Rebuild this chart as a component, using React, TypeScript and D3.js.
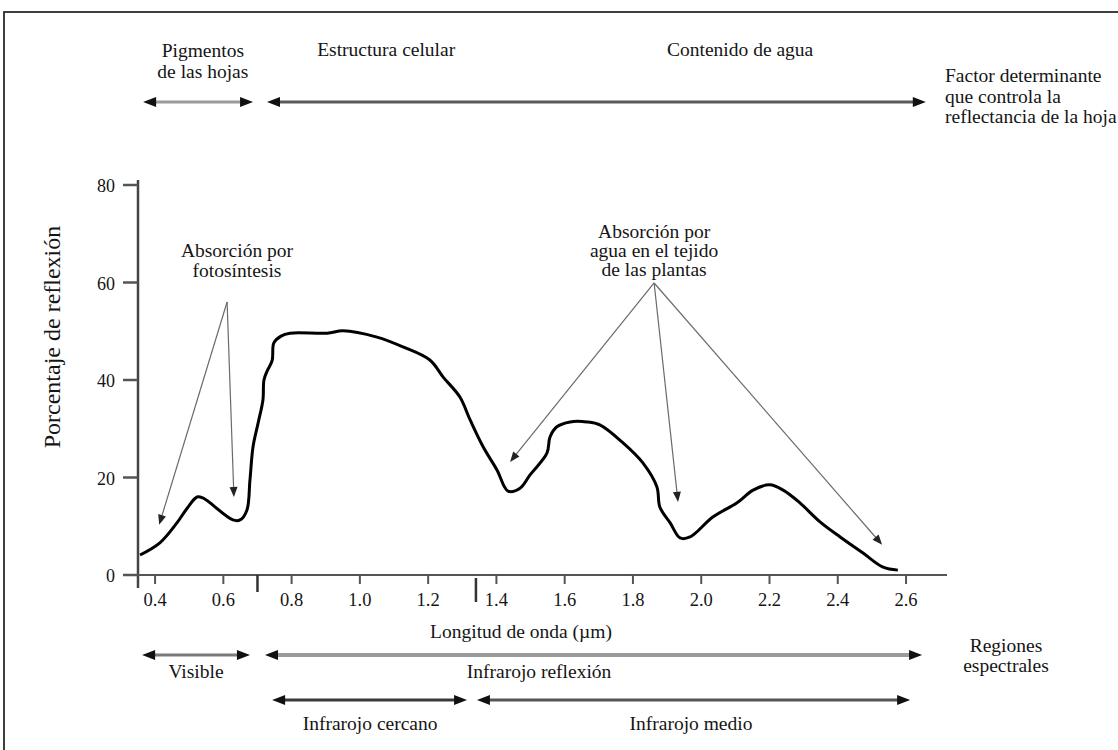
import React from "react";
import * as d3 from "d3";

// Leaf reflectance spectrum: wavelength (µm) and percent reflection
const wavelength = [
  0.356, 0.414, 0.464, 0.494, 0.523, 0.54, 0.628, 0.649, 0.669, 0.678, 0.687,
  0.702, 0.716, 0.719, 0.728, 0.743, 0.748, 0.769, 0.795, 0.904, 0.951, 1.05,
  1.126, 1.205, 1.244, 1.293, 1.323, 1.361, 1.402, 1.434, 1.469, 1.498, 1.548,
  1.557, 1.577, 1.616, 1.665, 1.703, 1.771, 1.829, 1.87, 1.879, 1.909, 1.938,
  1.967, 2.034, 2.105, 2.152, 2.201, 2.24, 2.289, 2.348, 2.407, 2.474, 2.533,
  2.576,
];
const reflectance = [
  4.1, 6.6, 10.7, 13.7, 16.0, 15.8, 11.3, 11.3, 13.3, 19.5, 26.3, 31.2, 35.9,
  40.0, 41.8, 44.0, 47.6, 49.0, 49.6, 49.6, 50.1, 48.8, 46.8, 44.1, 40.6,
  36.5, 31.8, 26.3, 21.5, 17.2, 17.8, 20.5, 25.0, 28.3, 30.4, 31.4, 31.4,
  30.8, 27.1, 23.0, 18.1, 13.9, 10.7, 7.6, 7.8, 11.9, 14.8, 17.4, 18.5, 17.4,
  14.8, 10.9, 7.8, 4.5, 1.6, 1.0,
];

const yTicks = [0, 20, 40, 60, 80];
const xTicks = [0.4, 0.6, 0.8, 1.0, 1.2, 1.4, 1.6, 1.8, 2.0, 2.2, 2.4, 2.6];
// Boundaries between visible / near IR / mid IR, marked on the axis
const boundaryTicks = [0.7, 1.34];

// Factors controlling leaf reflectance (top band)
const factorNames = ["Estructura celular", "Contenido de agua"];
const factorCenters = [1.077, 2.114];
const pigmentLines = ["Pigmentos", "de las hojas"];
const pigmentCenter = 0.54;
const topArrows: [number, number][] = [
  [0.365, 0.687],
  [0.728, 2.658],
];
const factorCaption = [
  "Factor determinante",
  "que controla la",
  "reflectancia de la hoja",
];

// Spectral regions (bottom bands)
const regionRow1: [number, number][] = [
  [0.362, 0.678],
  [0.722, 2.647],
];
const regionRow1Names = ["Visible", "Infrarojo reflexión"];
const regionRow1Centers = [0.52, 1.525];
const regionRow2: [number, number][] = [
  [0.743, 1.314],
  [1.343, 2.612],
];
const regionRow2Names = ["Infrarojo cercano", "Infrarojo medio"];
const regionRow2Centers = [1.03, 1.97];
const regionCaption = ["Regiones", "espectrales"];

// Absorption callouts: apex and arrow tips in data units
const photoLines = ["Absorción por", "fotosíntesis"];
const photoCenter = 0.64;
const photoApex: [number, number] = [0.611, 56.0];
const photoTips: [number, number][] = [
  [0.412, 10.3],
  [0.631, 16.0],
];
const waterLines = ["Absorción por", "agua en el tejido", "de las plantas"];
const waterApex: [number, number] = [1.862, 59.9];
const waterTips: [number, number][] = [
  [1.44, 23.2],
  [1.932, 15.0],
  [2.53, 6.2],
];

const W = 1118;
const H = 750;
const FONT = "'Liberation Serif', 'Times New Roman', serif";
const INK = "#151515";

const x = d3.scaleLinear().domain([0.35, 2.72]).range([138, 947]);
const y = d3.scaleLinear().domain([0, 80]).range([575, 185]);

function head(tx: number, ty: number, fx: number, fy: number, len: number, half: number) {
  const a = Math.atan2(ty - fy, tx - fx);
  const bx = tx - len * Math.cos(a);
  const by = ty - len * Math.sin(a);
  const px = -Math.sin(a) * half;
  const py = Math.cos(a) * half;
  return `M${tx},${ty}L${bx + px},${by + py}L${bx - px},${by - py}Z`;
}

function BandArrow({ from, to, yy, color, width }: { from: number; to: number; yy: number; color: string; width: number }) {
  const x1 = x(from);
  const x2 = x(to);
  const L = 13;
  return (
    <g>
      <line x1={x1 + L - 2} x2={x2 - L + 2} y1={yy} y2={yy} stroke={color} strokeWidth={width} />
      <path d={head(x1, yy, x2, yy, L, 5)} fill="#111" />
      <path d={head(x2, yy, x1, yy, L, 5)} fill="#111" />
    </g>
  );
}

function Callout({ apex, tips }: { apex: [number, number]; tips: [number, number][] }) {
  const ax = x(apex[0]);
  const ay = y(apex[1]);
  return (
    <g>
      {tips.map((t, i) => {
        const tx = x(t[0]);
        const ty = y(t[1]);
        const a = Math.atan2(ty - ay, tx - ax);
        const ex = tx - 8 * Math.cos(a);
        const ey = ty - 8 * Math.sin(a);
        return (
          <g key={i}>
            <line x1={ax} y1={ay} x2={ex} y2={ey} stroke="#6a6a6a" strokeWidth={1.2} />
            <path d={head(tx, ty, ax, ay, 10, 4)} fill="#222" />
          </g>
        );
      })}
    </g>
  );
}

export default function App() {
  const pts = wavelength.map((w, i) => [w, reflectance[i]] as [number, number]);
  const line = d3
    .line<[number, number]>()
    .x((d) => x(d[0]))
    .y((d) => y(d[1]))
    .curve(d3.curveCatmullRom.alpha(0.5));

  const txt = { fontFamily: FONT, fontSize: 19.5, fill: INK } as const;

  return (
    <svg
      width={W}
      height={H}
      viewBox={`0 0 ${W} ${H}`}
      style={{ position: "absolute", left: 0, top: 0, background: "#fff" }}
    >
      <rect x={0} y={0} width={W} height={H} fill="#fff" />
      {/* frame */}
      <rect x={4} y={12} width={W + 40} height={H + 40} fill="none" stroke="#2a2a2a" strokeWidth={1.8} />

      {/* top band: controlling factors */}
      <text {...txt} textAnchor="middle">
        {pigmentLines.map((s, i) => (
          <tspan key={i} x={x(pigmentCenter)} y={57 + i * 21}>
            {s}
          </tspan>
        ))}
      </text>
      {factorNames.map((s, i) => (
        <text key={s} {...txt} textAnchor="middle" x={x(factorCenters[i])} y={56}>
          {s}
        </text>
      ))}
      <BandArrow from={topArrows[0][0]} to={topArrows[0][1]} yy={102} color="#9a9a9a" width={3} />
      <BandArrow from={topArrows[1][0]} to={topArrows[1][1]} yy={102} color="#5a5a5a" width={3} />
      <text {...txt}>
        {factorCaption.map((s, i) => (
          <tspan key={i} x={945} y={82 + i * 20.5}>
            {s}
          </tspan>
        ))}
      </text>

      {/* y axis */}
      <line x1={138} x2={138} y1={y(80) - 5} y2={y(0) + 13} stroke="#444" strokeWidth={2.5} />
      {yTicks.map((t) => (
        <g key={t}>
          <line x1={123} x2={138} y1={y(t)} y2={y(t)} stroke="#555" strokeWidth={2.5} />
          <text {...txt} fontSize={18} textAnchor="end" x={115} y={y(t) + 7}>
            {t}
          </text>
        </g>
      ))}
      <text
        {...txt}
        fontSize={24}
        textAnchor="middle"
        transform={`translate(60,${(y(80) + y(0)) / 2 - 43}) rotate(-90)`}
      >
        Porcentaje de reflexión
      </text>

      {/* x axis */}
      <line x1={138} x2={947} y1={y(0)} y2={y(0)} stroke="#555" strokeWidth={2} />
      {xTicks.map((t) => (
        <g key={t}>
          <line x1={x(t)} x2={x(t)} y1={y(0)} y2={y(0) + 9} stroke="#555" strokeWidth={2} />
          <text {...txt} fontSize={18.5} textAnchor="middle" x={x(t)} y={606}>
            {t.toFixed(1)}
          </text>
        </g>
      ))}
      {boundaryTicks.map((t, i) => (
        <line
          key={t}
          x1={x(t)}
          x2={x(t)}
          y1={y(0) + (i === 0 ? 0 : 3)}
          y2={y(0) + (i === 0 ? 17 : 27)}
          stroke="#333"
          strokeWidth={2.5}
        />
      ))}
      <text {...txt} textAnchor="middle" x={x(1.472)} y={638}>
        Longitud de onda (µm)
      </text>

      {/* reflectance curve */}
      <path d={line(pts) || ""} fill="none" stroke="#000" strokeWidth={3} strokeLinejoin="round" />

      {/* absorption callouts */}
      <text {...txt} textAnchor="middle">
        {photoLines.map((s, i) => (
          <tspan key={i} x={x(photoCenter)} y={257 + i * 20}>
            {s}
          </tspan>
        ))}
      </text>
      <Callout apex={photoApex} tips={photoTips} />
      <text {...txt} textAnchor="middle">
        {waterLines.map((s, i) => (
          <tspan key={i} x={x(waterApex[0])} y={238 + i * 19}>
            {s}
          </tspan>
        ))}
      </text>
      <Callout apex={waterApex} tips={waterTips} />

      {/* bottom bands: spectral regions */}
      <BandArrow from={regionRow1[0][0]} to={regionRow1[0][1]} yy={655} color="#7a7a7a" width={3} />
      <BandArrow from={regionRow1[1][0]} to={regionRow1[1][1]} yy={655} color="#9a9a9a" width={4} />
      {regionRow1Names.map((s, i) => (
        <text key={s} {...txt} textAnchor="middle" x={x(regionRow1Centers[i])} y={678}>
          {s}
        </text>
      ))}
      <BandArrow from={regionRow2[0][0]} to={regionRow2[0][1]} yy={700} color="#3a3a3a" width={3} />
      <BandArrow from={regionRow2[1][0]} to={regionRow2[1][1]} yy={700} color="#555" width={3} />
      {regionRow2Names.map((s, i) => (
        <text key={s} {...txt} textAnchor="middle" x={x(regionRow2Centers[i])} y={730}>
          {s}
        </text>
      ))}
      <text {...txt} textAnchor="middle">
        {regionCaption.map((s, i) => (
          <tspan key={i} x={1006} y={652 + i * 20}>
            {s}
          </tspan>
        ))}
      </text>
    </svg>
  );
}
